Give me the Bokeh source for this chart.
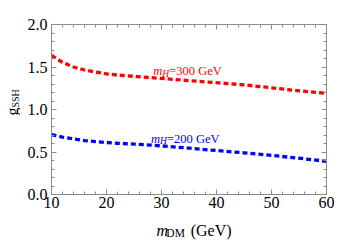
from math import pi
from bokeh.plotting import figure
from bokeh.layouts import row, column
from bokeh.models import Range1d, LinearAxis, FixedTicker, PrintfTickFormatter, Label
from bokeh.embed import file_html
from bokeh.resources import INLINE

# ---- data ----
m_dm = [10, 12, 14, 16, 18, 20, 22, 25, 28, 30, 35, 40, 45, 50, 55, 60]
g_mh300 = [1.635, 1.555, 1.50, 1.465, 1.44, 1.42, 1.405, 1.39, 1.375, 1.365,
           1.34, 1.315, 1.29, 1.255, 1.22, 1.19]
g_mh200 = [0.705, 0.675, 0.655, 0.635, 0.622, 0.612, 0.603, 0.593, 0.582, 0.572,
           0.545, 0.517, 0.49, 0.46, 0.427, 0.39]
x_major = [10, 20, 30, 40, 50, 60]
x_minor = [12, 14, 16, 18, 22, 24, 26, 28, 32, 34, 36, 38, 42, 44, 46, 48, 52, 54, 56, 58]
y_major = [0.0, 0.5, 1.0, 1.5, 2.0]
y_minor = [0.1, 0.2, 0.3, 0.4, 0.6, 0.7, 0.8, 0.9, 1.1, 1.2, 1.3, 1.4, 1.6, 1.7, 1.8, 1.9]
curve_labels = ["=300 GeV", "=200 GeV"]

FONT = "Liberation Serif"
GREY = "#8c8c8c"
YLAB_W = 20
MAIN_W, MAIN_H = 322, 214
XLAB_H = 26

p = figure(width=MAIN_W, height=MAIN_H, x_range=Range1d(10, 60), y_range=Range1d(0, 2),
           output_backend="svg", toolbar_location=None, title=None,
           min_border_left=31, min_border_right=16, min_border_top=24, min_border_bottom=20,
           x_axis_type=None, y_axis_type=None)
p.xgrid.visible = False
p.ygrid.visible = False
p.outline_line_color = GREY
p.background_fill_color = "white"
p.border_fill_color = "white"


def style(ax, ticks, minor, show_labels, standoff):
    ax.ticker = FixedTicker(ticks=ticks, minor_ticks=minor)
    ax.axis_line_color = GREY
    ax.major_tick_line_color = GREY
    ax.minor_tick_line_color = GREY
    ax.major_tick_in = 5
    ax.major_tick_out = 0
    ax.minor_tick_in = 3
    ax.minor_tick_out = 0
    ax.major_label_text_font = FONT
    ax.major_label_text_color = "black"
    ax.major_label_text_font_size = "16px"
    ax.major_label_standoff = standoff
    if not show_labels:
        ax.major_label_overrides = {t: "" for t in ticks}


xb = LinearAxis(formatter=PrintfTickFormatter(format="%d"))
style(xb, x_major, x_minor, True, 2)
p.add_layout(xb, "below")
xt = LinearAxis()
style(xt, x_major, x_minor, False, 0)
p.add_layout(xt, "above")
yl = LinearAxis(formatter=PrintfTickFormatter(format="%.1f"))
style(yl, y_major, y_minor, True, 4)
p.add_layout(yl, "left")
yr = LinearAxis()
style(yr, y_major, y_minor, False, 0)
p.add_layout(yr, "right")

p.line(m_dm, g_mh300, line_color="#ff0000", line_width=3.3, line_dash="5 3")
p.line(m_dm, g_mh200, line_color="#0000ff", line_width=3.3, line_dash="5 3")


def lab(fig, x, y, text, size, color="black", style="normal", dx=0, dy=0, angle=0):
    fig.add_layout(Label(x=x, y=y, text=text, x_offset=dx, y_offset=dy,
                         angle=angle, angle_units="deg",
                         text_font=FONT, text_font_size=size, text_font_style=style,
                         text_color=color, text_baseline="alphabetic", text_align="left"))


# curve labels
for (x0, y0, num, col) in [(28.5, 1.45, curve_labels[0], "#ff0000"),
                           (28.1, 0.653, curve_labels[1], "#0000ff")]:
    lab(p, x0, y0, "m", "12.5px", col, "italic")
    lab(p, x0, y0, "H", "9.5px", col, "italic", dx=9.0, dy=-2.5)
    lab(p, x0, y0, num, "12.5px", col, dx=16.0)


def blank(w, h):
    f = figure(width=w, height=h, x_range=Range1d(0, w), y_range=Range1d(0, h),
               output_backend="svg", toolbar_location=None, title=None, min_border=0,
               x_axis_type=None, y_axis_type=None)
    f.outline_line_color = None
    f.grid.visible = False
    f.background_fill_color = "white"
    f.border_fill_color = "white"
    return f


# y-axis title (rotated), in its own strip
ylab = blank(YLAB_W, MAIN_H)
lab(ylab, 12, MAIN_H - 115, "g", "16px", "black", angle=90)
lab(ylab, 15, MAIN_H - 115 + 8, "SSH", "10px", "black", angle=90)

# x-axis title, in its own strip
xlab = blank(MAIN_W, XLAB_H)
lab(xlab, 123, 10.0, "m", "16px", "black", "italic")
lab(xlab, 123 + 11.5, 7.5, "DM", "11.5px", "black")
lab(xlab, 123 + 40, 10.0, "(GeV)", "16px", "black")

layout = row(ylab, column(p, xlab))
open("out.html", "w").write(file_html(layout, INLINE))
